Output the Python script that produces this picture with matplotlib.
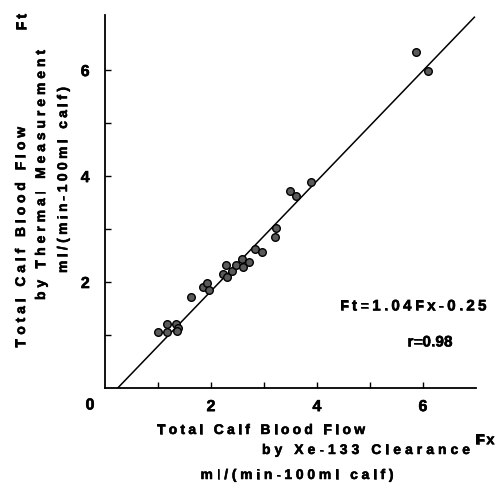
import matplotlib
matplotlib.use("Agg")
import matplotlib.pyplot as plt
import matplotlib.patheffects as pe
from matplotlib.font_manager import FontProperties
import numpy as np

fx = [1.00, 1.17, 1.17, 1.34, 1.38, 1.36, 1.62, 1.85, 1.92, 1.97,
      2.22, 2.28, 2.30, 2.39, 2.47, 2.58, 2.60, 2.72, 2.83, 2.96,
      3.21, 3.23, 3.49, 3.60, 3.89, 5.87, 6.09]
ft = [1.06, 1.21, 1.06, 1.21, 1.13, 1.08, 1.72, 1.91, 1.98, 1.85,
      2.15, 2.32, 2.09, 2.21, 2.32, 2.43, 2.29, 2.38, 2.62, 2.57,
      2.85, 3.02, 3.72, 3.62, 3.89, 6.34, 5.98]
slope = 1.04
intercept = -0.25
fit_x_range = [0.24, 6.97]
xticks = [1, 2, 3, 4, 5, 6]
yticks = [1, 2, 3, 4, 5, 6]
tick_labels = {2: "2", 4: "4", 6: "6"}

FONT = "Liberation Sans"
plt.rcParams['font.family'] = [FONT, "DejaVu Sans"]
HEAVY = [pe.withStroke(linewidth=0.4, foreground="black")]

fig = plt.figure(figsize=(5.0, 4.83), dpi=100)
W, H = 500, 483
ax = fig.add_axes([105 / W, (H - 388) / H, (476 - 105) / W, (388 - 15) / H])

ax.scatter(fx, ft, s=30, facecolor="#5a5a5a", edgecolor="black", linewidth=1.0, zorder=3)
lx = np.array(fit_x_range)
ax.plot(lx, slope * lx + intercept, color="black", linewidth=1.1)

ax.set_xlim(0, 7.0)
ax.set_ylim(0, 7.04)
for s in ["top", "right"]:
    ax.spines[s].set_visible(False)
for s in ["left", "bottom"]:
    ax.spines[s].set_linewidth(1.3)

ax.set_xticks(xticks)
ax.set_yticks(yticks)
ax.set_xticklabels([tick_labels.get(t, "") for t in xticks])
ax.set_yticklabels([tick_labels.get(t, "") for t in yticks])
ax.tick_params(direction="in", length=4, width=1.0, labelsize=11.5)
ax.tick_params(axis="x", pad=8)
ax.tick_params(axis="y", pad=11)
for lab in ax.get_xticklabels() + ax.get_yticklabels():
    lab.set_fontweight("bold")
    lab.set_path_effects(HEAVY)

renderer = fig.canvas.get_renderer()


def spaced_text(cx, cy, s, size, width, rotation=0):
    """Draw s with letter spacing so that it spans `width` pixels,
    centred at pixel (cx, cy) measured from the top-left of the figure."""
    prop = FontProperties(family=[FONT, "DejaVu Sans"], weight="bold", size=size)
    def w(t):
        return renderer.get_text_width_height_descent(t, prop, ismath=False)[0]
    space_w = w("a a") - w("aa")
    widths = [space_w if c == " " else w(c) for c in s]
    natural = sum(widths)
    gap = (width - natural) / max(len(s) - 1, 1)
    cap = 0.716 * size * 100 / 72.0
    start = -width / 2.0
    pos = start
    for c, cw in zip(s, widths):
        centre = pos + cw / 2.0
        pos += cw + gap
        if c == " ":
            continue
        if rotation == 0:
            x, y = cx + centre, cy + cap / 2.0
        else:
            x, y = cx + cap / 2.0, cy - centre
        fig.text(x / W, 1 - y / H, c, fontproperties=prop, ha="center",
                 va="baseline", rotation=rotation, rotation_mode="anchor",
                 path_effects=HEAVY)


fig.text(90 / W, 1 - 405 / H, "0", fontsize=11.5, fontweight="bold", ha="center",
         va="center", path_effects=HEAVY)
spaced_text(261, 429, "Total Calf Blood Flow", 10, 208)
spaced_text(366, 449, "by Xe-133 Clearance", 10, 208)
spaced_text(485, 439, "Fx", 10.5, 19)
spaced_text(297, 474, "ml/(min-100ml calf)", 10, 193)

spaced_text(20, 237, "Total Calf Blood Flow", 10, 220, rotation=90)
spaced_text(40, 175, "by Thermal Measurement", 10, 250, rotation=90)
spaced_text(62, 180, "ml/(min-100ml calf)", 10, 186, rotation=90)
spaced_text(21, 22, "Ft", 10.5, 16, rotation=90)

spaced_text(413, 305, "Ft=1.04Fx-0.25", 11, 147)
spaced_text(430, 341, "r=0.98", 11, 45)

fig.savefig("out.png", dpi=100)
